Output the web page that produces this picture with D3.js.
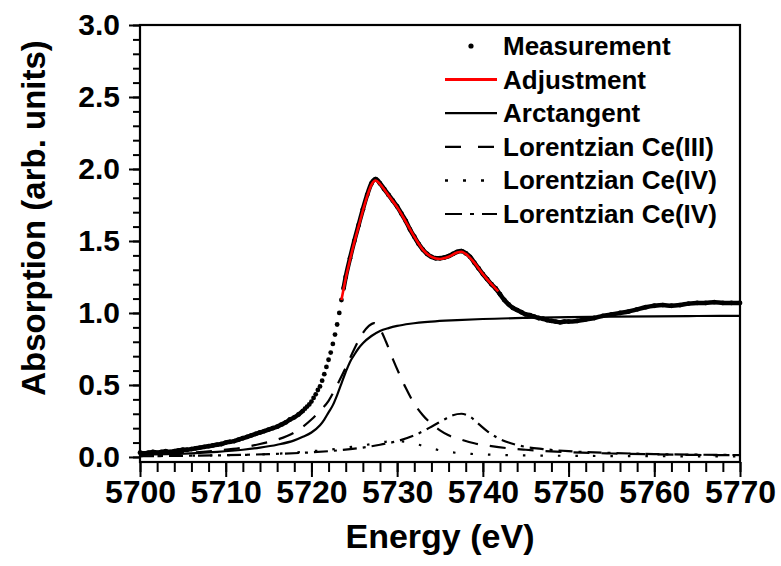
<!DOCTYPE html>
<html>
<head>
<meta charset="utf-8">
<script src="https://cdn.jsdelivr.net/npm/d3@7"></script>
<style>
    body { margin: 0; background: #fff; }
    svg { font-family: 'Liberation Sans', Arial, sans-serif; font-weight: bold; }
</style>
</head>
<body>
<div id="chart"></div>
<script>
// tick labels
var xTicks = [5700, 5710, 5720, 5730, 5740, 5750, 5760, 5770],
    yTicks = [0.0, 0.5, 1.0, 1.5, 2.0, 2.5, 3.0];

// measured absorption, [energy eV, absorption]
var measurement = [
    [5700,0.03],[5700.5,0.025],[5701,0.03],[5701.5,0.035],[5702,0.03],[5702.5,0.035],[5703,0.04],[5703.5,0.035],
    [5704,0.04],[5704.5,0.045],[5705,0.05],[5705.5,0.05],[5706,0.055],[5706.5,0.06],[5707,0.065],[5707.5,0.07],
    [5708,0.075],[5708.5,0.08],[5709,0.085],[5709.5,0.09],[5710,0.1],[5710.5,0.105],[5711,0.11],[5711.5,0.12],
    [5712,0.13],[5712.5,0.14],[5713,0.15],[5713.5,0.16],[5714,0.17],[5714.5,0.18],[5715,0.19],[5715.5,0.2],
    [5716,0.21],[5716.5,0.225],[5717,0.24],[5717.5,0.26],[5718,0.275],[5718.5,0.295],[5719,0.32],[5719.25,0.335],
    [5719.5,0.35],[5719.75,0.365],[5720,0.385],[5720.25,0.41],[5720.5,0.435],[5720.75,0.465],[5721,0.49],
    [5721.25,0.53],[5721.5,0.575],[5721.75,0.625],[5722,0.675],[5722.25,0.725],[5722.5,0.785],[5722.75,0.85],
    [5723,0.92],[5723.25,1.0],[5723.5,1.09],[5723.75,1.17],[5724,1.25],[5724.5,1.38],[5725,1.5],[5725.5,1.61],
    [5726,1.72],[5726.5,1.82],[5727,1.9],[5727.5,1.93],[5728,1.9],[5728.5,1.86],[5729,1.82],[5729.5,1.78],
    [5730,1.74],[5730.5,1.69],[5731,1.64],[5731.5,1.58],[5732,1.53],[5732.5,1.48],[5733,1.44],[5733.5,1.41],
    [5734,1.39],[5734.5,1.38],[5735,1.38],[5735.5,1.385],[5736,1.395],[5736.5,1.41],[5737,1.425],[5737.5,1.43],
    [5738,1.415],[5738.5,1.39],[5739,1.35],[5739.5,1.31],[5740,1.27],[5740.5,1.235],[5741,1.2],[5741.5,1.17],
    [5742,1.13],[5742.5,1.09],[5743,1.06],[5743.5,1.035],[5744,1.02],[5744.5,1.005],[5745,0.99],[5745.5,0.985],
    [5746,0.975],[5746.5,0.965],[5747,0.96],[5747.5,0.95],[5748,0.945],[5748.5,0.94],[5749,0.935],[5749.5,0.94],
    [5750,0.94],[5751,0.945],[5752,0.955],[5753,0.965],[5754,0.98],[5755,0.99],[5756,1.0],[5757,1.01],
    [5758,1.025],[5759,1.04],[5760,1.05],[5761,1.055],[5762,1.05],[5763,1.055],[5764,1.065],[5765,1.07],
    [5766,1.07],[5767,1.075],[5768,1.07],[5769,1.07],[5770,1.07]
];

// fitted sum (red)
var adjustment = [
    [5723.5,1.09],[5724,1.24],[5724.5,1.37],[5725,1.49],[5725.5,1.6],[5726,1.71],[5726.5,1.81],[5727,1.89],
    [5727.5,1.92],[5728,1.895],[5729,1.815],[5730,1.735],[5731,1.635],[5732,1.53],[5733,1.44],[5734,1.39],
    [5735,1.375],[5736,1.39],[5737,1.42],[5737.5,1.425],[5738,1.41],[5739,1.35],[5740,1.27],[5741,1.2],[5741.8,1.15]
];

var arctangent = [
    [5700,0.015],[5703,0.02],[5706,0.025],[5709,0.035],[5712,0.05],[5714,0.065],[5716,0.085],[5718,0.115],
    [5719,0.14],[5720,0.17],[5721,0.22],[5721.5,0.26],[5722,0.31],[5722.5,0.36],[5723,0.43],[5723.5,0.51],
    [5724,0.59],[5724.5,0.66],[5725,0.71],[5725.5,0.755],[5726,0.79],[5727,0.84],[5728,0.875],[5729,0.895],
    [5730,0.91],[5731.5,0.925],[5734,0.94],[5737,0.95],[5740,0.958],[5745,0.966],[5750,0.971],[5755,0.975],
    [5760,0.977],[5765,0.979],[5770,0.98]
];

var lorentzCe3 = [
    [5700,0.02],[5703,0.025],[5706,0.03],[5709,0.045],[5712,0.065],[5714,0.09],[5716,0.12],[5718,0.17],
    [5719,0.21],[5720,0.26],[5721,0.32],[5722,0.39],[5723,0.5],[5724,0.62],[5725,0.75],[5726,0.86],
    [5726.7,0.91],[5727.3,0.93],[5728,0.89],[5728.7,0.8],[5729.5,0.68],[5730.3,0.57],[5731,0.48],[5732,0.37],
    [5733,0.29],[5734,0.23],[5735,0.185],[5736,0.15],[5737.5,0.12],[5739,0.095],[5741,0.075],[5743,0.06],
    [5745,0.05],[5750,0.033],[5755,0.024],[5760,0.018],[5765,0.014],[5770,0.012]
];

var lorentzCe4a = [
    [5700,0.005],[5705,0.008],[5710,0.012],[5715,0.02],[5718,0.03],[5720,0.04],[5722,0.05],[5724,0.065],
    [5726,0.08],[5728,0.1],[5729.5,0.11],[5731,0.105],[5732.5,0.085],[5734,0.06],[5735.5,0.04],[5737,0.028],
    [5739,0.02],[5742,0.014],[5746,0.01],[5750,0.008],[5760,0.005],[5770,0.004]
];

var lorentzCe4b = [
    [5700,0.005],[5705,0.008],[5710,0.012],[5715,0.02],[5720,0.032],[5723,0.045],[5726,0.065],[5728,0.085],
    [5730,0.11],[5732,0.15],[5734,0.21],[5735.5,0.26],[5736.5,0.29],[5737.5,0.3],[5738.5,0.28],[5739.5,0.23],
    [5740.5,0.18],[5741.5,0.14],[5743,0.1],[5745,0.07],[5747,0.055],[5750,0.04],[5755,0.028],[5760,0.02],
    [5765,0.016],[5770,0.013]
];

var legendLabels = ['Measurement', 'Adjustment', 'Arctangent', 'Lorentzian Ce(III)', 'Lorentzian Ce(IV)', 'Lorentzian Ce(IV)'];

var width = 781,
    height = 566,
    margin = { top: 25, right: 41, bottom: 104, left: 140 },
    w = width - margin.left - margin.right,
    h = height - margin.top - margin.bottom;

var svg = d3.select('#chart').append('svg')
    .attr('width', width)
    .attr('height', height);

var g = svg.append('g').attr('transform', 'translate(' + margin.left + ',' + margin.top + ')');

var x = d3.scaleLinear().domain([5700, 5770]).range([0, w]);
var y = d3.scaleLinear().domain([-0.035, 3.0]).range([h, 0]);

// minor ticks first, then major ticks with labels
g.append('g')
    .attr('transform', 'translate(0,' + h + ')')
    .call(d3.axisBottom(x).tickValues(d3.range(5700, 5771, 2)).tickSize(10).tickFormat(''));
g.append('g')
    .attr('transform', 'translate(0,' + h + ')')
    .attr('class', 'xaxis')
    .call(d3.axisBottom(x).tickValues(xTicks).tickSize(15).tickPadding(3).tickFormat(d3.format('d')));
g.append('g')
    .call(d3.axisLeft(y).tickValues(d3.range(0, 30.5, 1).map(function(d) { return d / 10; })).tickSize(7).tickFormat(''));
g.append('g')
    .attr('class', 'yaxis')
    .call(d3.axisLeft(y).tickValues(yTicks).tickSize(11).tickPadding(9).tickFormat(d3.format('.1f')));

g.selectAll('.domain').remove();
g.selectAll('.tick line').attr('stroke', '#000').attr('stroke-width', 2);
g.selectAll('.tick text').attr('fill', '#000').style('font-weight', 'bold');
g.selectAll('.xaxis .tick text').style('font-size', '32px');
g.selectAll('.yaxis .tick text').style('font-size', '30px');

// frame
g.append('rect')
    .attr('x', 0).attr('y', 0)
    .attr('width', w).attr('height', h)
    .attr('fill', 'none')
    .attr('stroke', '#000')
    .attr('stroke-width', 2.2);

// axis titles
svg.append('text')
    .attr('x', margin.left + w / 2)
    .attr('y', 548)
    .attr('text-anchor', 'middle')
    .style('font-size', '34px')
    .text('Energy (eV)');
svg.append('text')
    .attr('transform', 'translate(45,' + (margin.top + 193) + ') rotate(-90)')
    .attr('text-anchor', 'middle')
    .style('font-size', '33px')
    .text('Absorption (arb. units)');

var line = d3.line()
    .x(function(d) { return x(d[0]); })
    .y(function(d) { return y(d[1]); })
    .curve(d3.curveMonotoneX);

var plot = g.append('g');

function fitLine(data, dash) {
    plot.append('path')
        .datum(data)
        .attr('d', line)
        .attr('fill', 'none')
        .attr('stroke', '#000')
        .attr('stroke-width', 2.2)
        .attr('stroke-dasharray', dash);
}

fitLine(lorentzCe4a, '2.5,15');
fitLine(lorentzCe4b, '14,6,3,6');
fitLine(lorentzCe3, '16,12');
fitLine(arctangent, null);

// measurement: dense parts look like a thick noisy line, the steep edge shows single dots
var measLine = d3.line()
    .defined(function(d) { return d[0] < 5719.2 || d[0] > 5723.6; })
    .x(function(d) { return x(d[0]); })
    .y(function(d) { return y(d[1]); })
    .curve(d3.curveMonotoneX);

plot.append('path')
    .datum(measurement)
    .attr('d', measLine)
    .attr('fill', 'none')
    .attr('stroke', '#000')
    .attr('stroke-width', 4.5);

plot.selectAll('circle.meas')
    .data(measurement)
    .enter().append('circle')
    .attr('class', 'meas')
    .attr('cx', function(d) { return x(d[0]); })
    .attr('cy', function(d) { return y(d[1]); })
    .attr('r', 2.4)
    .attr('fill', '#000');

plot.append('path')
    .datum(adjustment)
    .attr('d', line)
    .attr('fill', 'none')
    .attr('stroke', '#ff0000')
    .attr('stroke-width', 2.6);

// legend
var legend = svg.append('g').attr('transform', 'translate(445,46)');
var rowH = 33.6;
var styles = [
    { dot: true },
    { stroke: '#ff0000', dash: null, sw: 3 },
    { stroke: '#000', dash: null, sw: 2.2 },
    { stroke: '#000', dash: '16,17', sw: 2.2 },
    { stroke: '#000', dash: '3,15', sw: 2.5 },
    { stroke: '#000', dash: '17,8,4,8', sw: 2.2 }
];

legendLabels.forEach(function(label, i) {
    var row = legend.append('g').attr('transform', 'translate(0,' + (i * rowH) + ')');
    var s = styles[i];
    if (s.dot) {
        row.append('circle').attr('cx', 26).attr('cy', 0).attr('r', 2.6).attr('fill', '#000');
    } else {
        row.append('line')
            .attr('x1', 0).attr('x2', 52)
            .attr('y1', 0).attr('y2', 0)
            .attr('stroke', s.stroke)
            .attr('stroke-width', s.sw)
            .attr('stroke-dasharray', s.dash);
    }
    row.append('text')
        .attr('x', 58)
        .attr('y', 9)
        .style('font-size', '26px')
        .text(label);
});
</script>
</body>
</html>
